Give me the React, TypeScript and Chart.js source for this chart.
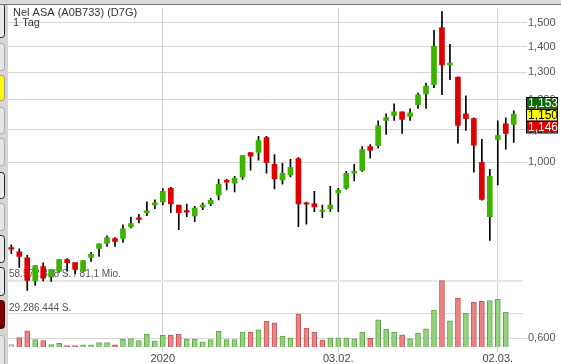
import React, { useEffect, useRef } from "react";
import { Chart, registerables } from "chart.js";
Chart.register(...registerables);

const FONT = "'Liberation Sans', Arial, sans-serif";

const dates = [
  "2019-12-03","2019-12-04","2019-12-05","2019-12-06","2019-12-09","2019-12-10","2019-12-11","2019-12-12","2019-12-13","2019-12-16",
  "2019-12-17","2019-12-18","2019-12-19","2019-12-20","2019-12-23","2019-12-24","2019-12-27","2019-12-30","2019-12-31",
  "2020-01-02","2020-01-03","2020-01-06","2020-01-07","2020-01-08","2020-01-09","2020-01-10","2020-01-13","2020-01-14","2020-01-15",
  "2020-01-16","2020-01-17","2020-01-20","2020-01-21","2020-01-22","2020-01-23","2020-01-24","2020-01-27","2020-01-28","2020-01-29",
  "2020-01-30","2020-01-31",
  "2020-02-03","2020-02-04","2020-02-05","2020-02-06","2020-02-07","2020-02-10","2020-02-11","2020-02-12","2020-02-13","2020-02-14",
  "2020-02-17","2020-02-18","2020-02-19","2020-02-20","2020-02-21","2020-02-24","2020-02-25","2020-02-26","2020-02-27","2020-02-28",
  "2020-03-02","2020-03-03","2020-03-04",
];

const opens = [
  0.7782,0.7715,0.7583,0.7091,0.7389,0.7165,0.7290,0.7540,0.7474,0.7290,
  0.7590,0.7789,0.7902,0.8017,0.8017,0.8292,0.8482,0.8641,0.8842,0.8919,
  0.9278,0.8835,0.8662,0.8559,0.8784,0.8868,0.9093,0.9494,0.9413,0.9585,
  1.0292,1.0292,1.0747,0.9943,0.9503,0.9641,1.0116,0.8863,0.8868,0.8672,
  0.8741,0.9153,0.9278,0.9696,0.9772,1.0472,1.0502,1.1296,1.1460,1.1583,
  1.1427,1.1830,1.2199,1.2531,1.4798,1.3275,1.2812,1.1517,1.1362,1.0000,
  0.8542,1.0694,1.1190,1.1167,
];
const highs = [
  0.7872,0.7782,0.7634,0.7410,0.7472,0.7325,0.7540,0.7562,0.7474,0.7518,
  0.7700,0.7895,0.8079,0.8040,0.8340,0.8534,0.8601,0.8919,0.8971,0.9270,
  0.9305,0.8835,0.8860,0.8801,0.8885,0.9007,0.9522,0.9522,0.9605,1.0204,
  1.0292,1.0787,1.0787,1.0233,0.9971,1.0087,1.0145,0.8911,0.9198,0.8835,
  0.9332,0.9278,0.9744,0.9943,1.0472,1.0532,1.1286,1.1517,1.1853,1.1583,
  1.1684,1.2235,1.2593,1.4671,1.5496,1.4090,1.2812,1.2130,1.1385,1.0694,
  0.9800,1.1286,1.1385,1.1617,
];
const lows = [
  0.7671,0.7374,0.6895,0.6996,0.7091,0.7077,0.7265,0.7290,0.7241,0.7290,
  0.7503,0.7612,0.7834,0.7834,0.7925,0.8268,0.8388,0.8566,0.8741,0.8842,
  0.8641,0.8228,0.8542,0.8420,0.8715,0.8817,0.8971,0.9233,0.9180,0.9522,
  0.9780,1.0067,0.9696,0.9260,0.9386,0.9585,0.8299,0.8357,0.8666,0.8517,
  0.8666,0.8666,0.9251,0.9475,0.9744,1.0125,1.0421,1.0850,1.1296,1.0881,
  1.1296,1.1694,1.1694,1.2424,1.2175,1.2713,1.0572,1.0976,0.9724,0.8963,
  0.7971,0.9367,1.0391,1.0602,
];
const closes = [
  0.7775,0.7612,0.7097,0.7410,0.7144,0.7325,0.7540,0.7474,0.7331,0.7518,
  0.7656,0.7895,0.8040,0.7948,0.8244,0.8371,0.8475,0.8691,0.8893,0.9198,
  0.8868,0.8641,0.8655,0.8758,0.8835,0.8955,0.9386,0.9440,0.9550,1.0204,
  1.0183,1.0655,1.0000,0.9530,0.9688,0.9857,0.8868,0.8857,0.8791,0.8679,
  0.8835,0.9225,0.9688,0.9744,1.0382,1.0361,1.1125,1.1394,1.1583,1.1329,
  1.1550,1.2165,1.2485,1.4010,1.3275,1.3340,1.1135,1.1352,1.0511,0.8981,
  0.9605,1.0809,1.0881,1.1500,
];
// volume in millions of shares
const volumes = [
  2.2,8.2,14.3,6.5,5.6,2.2,3.3,1.3,1.3,1.9,
  1.9,3.9,3.9,1.9,6.8,7.4,5.6,11.4,5.4,10.3,
  10.6,11.4,6.8,6.8,4.5,6.5,13.7,6.5,6.5,13.2,
  13.2,15.2,22.8,21.3,9.7,8.0,29.1,16.6,13.2,6.2,
  8.0,8.0,8.0,7.1,13.2,7.6,23.9,15.8,13.2,10.8,
  7.1,12.3,16.1,32.5,58.57,23.0,43.2,29.7,39.5,40.3,
  40.9,42.1,30.5,null,
];
// volume bar direction: n = unchanged, u = up, d = down
const volumeDir = [
  "n","d","d","u","d","u","u","d","d","u",
  "u","u","u","d","u","u","u","u","u","u",
  "d","d","u","u","u","u","u","u","u","u",
  "d","u","d","d","u","u","d","d","d","d",
  "u","u","u","u","u","d","u","u","u","d",
  "u","u","u","u","d","u","d","u","d","d",
  "u","u","u","u",
];

const priceTicks = [0.6, 1.0, 1.1, 1.2, 1.3, 1.4, 1.5];
const xTickDates = ["2020-01-02", "2020-02-03", "2020-03-02"];
const xTickLabels = ["2020", "03.02.", "02.03."];
const volumeLevels = [29.286444, 58.572888];
const volumeLabels = ["29.286.444 S.", "58.572.888 S. / 81,1 Mio."];
const priceBoxValues = [1.153, 1.15, 1.146];
const title = "Nel ASA (A0B733) (D7G)";
const subtitle = "1 Tag";

const GREEN = "#3cb300";
const RED = "#dd0000";

const fmt = (v: number) => v.toFixed(3).replace(".", ",");

export default function App() {
  const ref = useRef<HTMLCanvasElement | null>(null);

  useEffect(() => {
    const canvas = ref.current;
    if (!canvas) return;
    const xTickIdx = xTickDates.map((d) => dates.indexOf(d));

    const decor = {
      id: "decor",
      beforeDraw(chart: any) {
        const ctx = chart.ctx;
        ctx.save();
        ctx.fillStyle = "#d5d5d5";
        ctx.fillRect(0, 0, 8, 364);
        const buttons: [number, number, string, string][] = [
          [3, 37, "#e9e9e9", "#222"],
          [43, 70, "#e4e4e4", "#aaa"],
          [75, 100, "#ffff00", "#999"],
          [107, 133, "#e4e4e4", "#aaa"],
          [138, 165, "#e4e4e4", "#aaa"],
          [172, 198, "#e9e9e9", "#222"],
          [203, 230, "#e4e4e4", "#aaa"],
          [235, 262, "#e9e9e9", "#222"],
          [267, 295, "#e9e9e9", "#222"],
          [300, 328, "#7a0000", "#400000"],
          [335, 370, "#e4e4e4", "#aaa"],
        ];
        for (const [y0, y1, f, s] of buttons) {
          ctx.beginPath();
          ctx.roundRect(-8, y0 + 0.5, 12.5, y1 - y0, 3);
          ctx.fillStyle = f;
          ctx.fill();
          ctx.strokeStyle = s;
          ctx.lineWidth = 1;
          ctx.stroke();
        }
        ctx.fillStyle = "#d9d9d9";
        ctx.fillRect(0, 0, 561, 4);
        ctx.fillStyle = "#777";
        ctx.fillRect(0, 4, 561, 1);
        ctx.restore();
      },
      beforeDatasetsDraw(chart: any) {
        const ctx = chart.ctx;
        const yv = chart.scales.yv;
        ctx.save();
        ctx.fillStyle = "#333";
        ctx.font = `11px ${FONT}`;
        ctx.textBaseline = "top";
        ctx.fillText(title, 13, 7);
        ctx.fillText(subtitle, 13, 17);
        ctx.fillStyle = "#555";
        ctx.font = `10px ${FONT}`;
        ctx.textBaseline = "bottom";
        volumeLevels.forEach((v, i) => {
          ctx.fillText(volumeLabels[i], 9, yv.getPixelForValue(v) - 1);
        });
        ctx.restore();
      },
      afterDraw(chart: any) {
        const ctx = chart.ctx;
        const y = chart.scales.y;
        const yc = y.getPixelForValue(priceBoxValues[1]);
        const boxes = [
          { v: priceBoxValues[0], bg: "#0d6b0d", fg: "#fff", top: yc - 17 },
          { v: priceBoxValues[1], bg: "#ffff00", fg: "#000", top: yc - 5.5 },
          { v: priceBoxValues[2], bg: RED, fg: "#fff", top: yc + 6.5 },
        ];
        ctx.save();
        ctx.font = `12px ${FONT}`;
        ctx.textBaseline = "middle";
        for (const b of boxes) {
          const h = 11.5;
          ctx.fillStyle = b.bg;
          ctx.fillRect(526, b.top, 32, h);
          ctx.strokeStyle = "#000";
          ctx.lineWidth = 1;
          ctx.strokeRect(526.5, Math.round(b.top) + 0.5, 31, h);
          ctx.fillStyle = b.fg;
          ctx.fillText(fmt(b.v), 528, b.top + h / 2 + 1);
        }
        ctx.restore();
      },
    };

    const n = dates.length;
    const chart = new Chart(canvas, {
      type: "bar",
      data: {
        datasets: [
          {
            label: "body",
            order: 0,
            data: opens.map((o, i) => ({ x: i, y: [o, closes[i]] })) as any,
            backgroundColor: opens.map((o, i) => (closes[i] >= o ? GREEN : RED)),
            barThickness: 5,
            minBarLength: 1.5,
            borderWidth: 0,
            grouped: false,
            xAxisID: "x",
            yAxisID: "y",
          } as any,
          {
            label: "wick",
            order: 1,
            data: lows.map((l, i) => ({ x: i, y: [l, highs[i]] })) as any,
            backgroundColor: "#000",
            barThickness: 1,
            borderWidth: 0,
            grouped: false,
            xAxisID: "x",
            yAxisID: "y",
          } as any,
          {
            label: "volume",
            order: 2,
            data: volumes.map((v, i) => ({ x: i, y: v })) as any,
            backgroundColor: volumeDir.map((d) =>
              d === "u" ? "#92d47c" : d === "d" ? "#ee8282" : "#d6d6d6"
            ),
            borderColor: volumeDir.map((d) =>
              d === "u" ? "#62a34e" : d === "d" ? "#bb5757" : "#a0a0a0"
            ),
            borderWidth: 1,
            borderSkipped: "bottom",
            barThickness: 5,
            grouped: false,
            xAxisID: "x",
            yAxisID: "yv",
          } as any,
        ],
      },
      options: {
        responsive: false,
        animation: false,
        devicePixelRatio: 1,
        layout: { padding: { left: 8, top: 5, right: 0, bottom: 0 } },
        plugins: { legend: { display: false }, tooltip: { enabled: false } },
        scales: {
          x: {
            type: "linear",
            offset: false,
            bounds: "data",
            min: -0.414,
            max: n + 0.16,
            afterBuildTicks: (s: any) => {
              s.ticks = xTickIdx.map((v) => ({ value: v }));
            },
            afterFit: (s: any) => {
              s.height = 17;
            },
            ticks: {
              autoSkip: false,
              maxRotation: 0,
              padding: 0,
              color: "#444",
              font: { size: 11, family: FONT },
              callback: (v: any) => {
                const k = xTickIdx.indexOf(Number(v));
                return k >= 0 ? xTickLabels[k] : "";
              },
            },
            grid: { color: "#d2d2d2", tickLength: 5, offset: false },
            border: { display: false },
          },
          y: {
            type: "logarithmic",
            position: "right",
            min: 0.5851,
            max: 1.5677,
            afterBuildTicks: (s: any) => {
              s.ticks = priceTicks.map((v) => ({ value: v }));
            },
            afterFit: (s: any) => {
              s.width = 38;
            },
            ticks: {
              autoSkip: false,
              padding: 1,
              color: "#555",
              font: { size: 11, family: FONT },
              callback: (v: any) => fmt(Number(v)),
            },
            grid: { color: "#d6d6d6", tickLength: 4 },
            border: { display: false },
          },
          yv: {
            type: "linear",
            position: "left",
            min: 0,
            max: 298.97,
            afterBuildTicks: (s: any) => {
              s.ticks = volumeLevels.map((v) => ({ value: v }));
            },
            afterFit: (s: any) => {
              s.width = 0;
            },
            ticks: { display: false },
            grid: {
              color: (c: any) => (c.index === 1 ? "#e6e6e6" : "#dcdcdc"),
              lineWidth: (c: any) => (c.index === 1 ? 2 : 1),
              drawTicks: false,
            },
            border: { display: false },
          },
        },
      } as any,
      plugins: [decor],
    });
    return () => chart.destroy();
  }, []);

  return (
    <div style={{ position: "fixed", left: 0, top: 0, width: 561, height: 364, background: "#fff" }}>
      <canvas ref={ref} width={561} height={364} style={{ display: "block" }} />
    </div>
  );
}
